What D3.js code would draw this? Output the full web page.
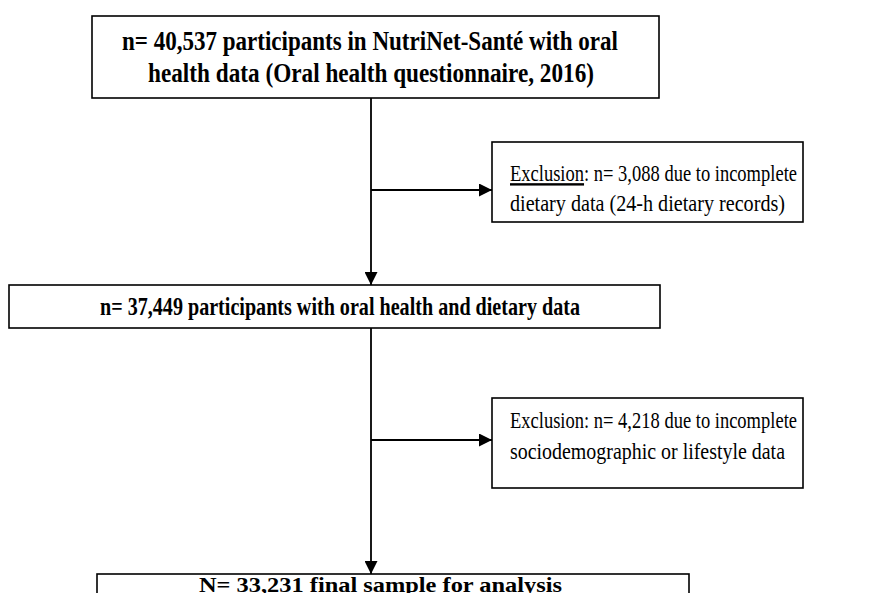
<!DOCTYPE html>
<html>
<head>
<meta charset="utf-8">
<script src="https://cdn.jsdelivr.net/npm/d3@7"></script>
<style>
  body { margin: 0; background: #fff; }
  text { font-family: "Liberation Serif", "Times New Roman", serif; fill: #000; }
</style>
</head>
<body>
<script>
// Flow chart content
const stepLines = [
    ["n= 40,537 participants in NutriNet-Santé with oral", "health data (Oral health questionnaire, 2016)"],
    ["n= 37,449 participants with oral health and dietary data"],
    ["N= 33,231 final sample for analysis"]
];
const exclusionLabels = ["Exclusion", "Exclusion"];
const exclusionLines = [
    [": n= 3,088 due to incomplete", "dietary data (24-h dietary records)"],
    [": n= 4,218 due to incomplete", "sociodemographic or lifestyle data"]
];
const exclusionUnderlined = [true, false];

var width = 896, height = 593;

var svg = d3.select("body")
    .append("svg")
    .attr("width", width)
    .attr("height", height);

// box geometry (pixels); lines = [left x, baseline y, width] of each text line
var spineX = 371;
var stepBoxes = [
    { x0: 92, x1: 659, y0: 16, y1: 98, size: 22, stretch: 1.2, lines: [[122, 50, 496], [148, 82, 446]] },
    { x0: 9, x1: 660, y0: 285, y1: 328, size: 21, stretch: 1.2, lines: [[100, 315, 480]] },
    { x0: 97, x1: 689, y0: 574, y1: 640, size: 20, stretch: 1.1, lines: [[199, 592, 363]] }
];
var exclBoxes = [
    { x0: 492, x1: 803, y0: 142, y1: 222, arrowY: 190, lines: [[510, 181, 287], [510, 211, 275]] },
    { x0: 492, x1: 803, y0: 398, y1: 488, arrowY: 440, lines: [[510, 428, 287], [510, 459, 275]] }
];
var stretch = 1.2; // text in the source is slightly stretched vertically

var defs = svg.append("defs");
defs.append("marker")
    .attr("id", "head")
    .attr("viewBox", "0 0 10 10")
    .attr("refX", 10)
    .attr("refY", 5)
    .attr("markerWidth", 13)
    .attr("markerHeight", 13)
    .attr("markerUnits", "userSpaceOnUse")
    .attr("orient", "auto")
    .append("path")
    .attr("d", "M0,0 L10,5 L0,10 Z")
    .attr("fill", "#000");

// all boxes
svg.selectAll("rect.box")
    .data(stepBoxes.concat(exclBoxes))
    .join("rect")
    .attr("class", "box")
    .attr("x", d => d.x0)
    .attr("y", d => d.y0)
    .attr("width", d => d.x1 - d.x0)
    .attr("height", d => d.y1 - d.y0)
    .attr("fill", "#fff")
    .attr("stroke", "#000")
    .attr("stroke-width", 1.6);

// vertical arrows between steps
d3.range(stepBoxes.length - 1).forEach(function (i) {
    svg.append("line")
        .attr("x1", spineX).attr("x2", spineX)
        .attr("y1", stepBoxes[i].y1).attr("y2", stepBoxes[i + 1].y0)
        .attr("stroke", "#000")
        .attr("stroke-width", 1.8)
        .attr("marker-end", "url(#head)");
});

// horizontal arrows to exclusion boxes
exclBoxes.forEach(function (b) {
    svg.append("line")
        .attr("x1", spineX).attr("x2", b.x0)
        .attr("y1", b.arrowY).attr("y2", b.arrowY)
        .attr("stroke", "#000")
        .attr("stroke-width", 1.8)
        .attr("marker-end", "url(#head)");
});

// step text (bold)
stepLines.forEach(function (lines, i) {
    var b = stepBoxes[i];
    lines.forEach(function (t, j) {
        var p = b.lines[j];
        svg.append("text")
            .attr("transform", `translate(${p[0]},${p[1]}) scale(1,${b.stretch})`)
            .attr("textLength", p[2])
            .attr("lengthAdjust", "spacingAndGlyphs")
            .style("font-size", b.size + "px")
            .style("font-weight", "bold")
            .text(t);
    });
});

// exclusion text
exclusionLines.forEach(function (lines, i) {
    var b = exclBoxes[i];
    lines.forEach(function (t, j) {
        var p = b.lines[j];
        var txt = svg.append("text")
            .attr("transform", `translate(${p[0]},${p[1]}) scale(1,${stretch})`)
            .attr("textLength", p[2])
            .attr("lengthAdjust", "spacingAndGlyphs")
            .style("font-size", "20px");
        if (j === 0) {
            txt.append("tspan")
                .style("text-decoration", exclusionUnderlined[i] ? "underline" : "none")
                .text(exclusionLabels[i]);
        }
        txt.append("tspan").text(t);
    });
});
</script>
</body>
</html>
